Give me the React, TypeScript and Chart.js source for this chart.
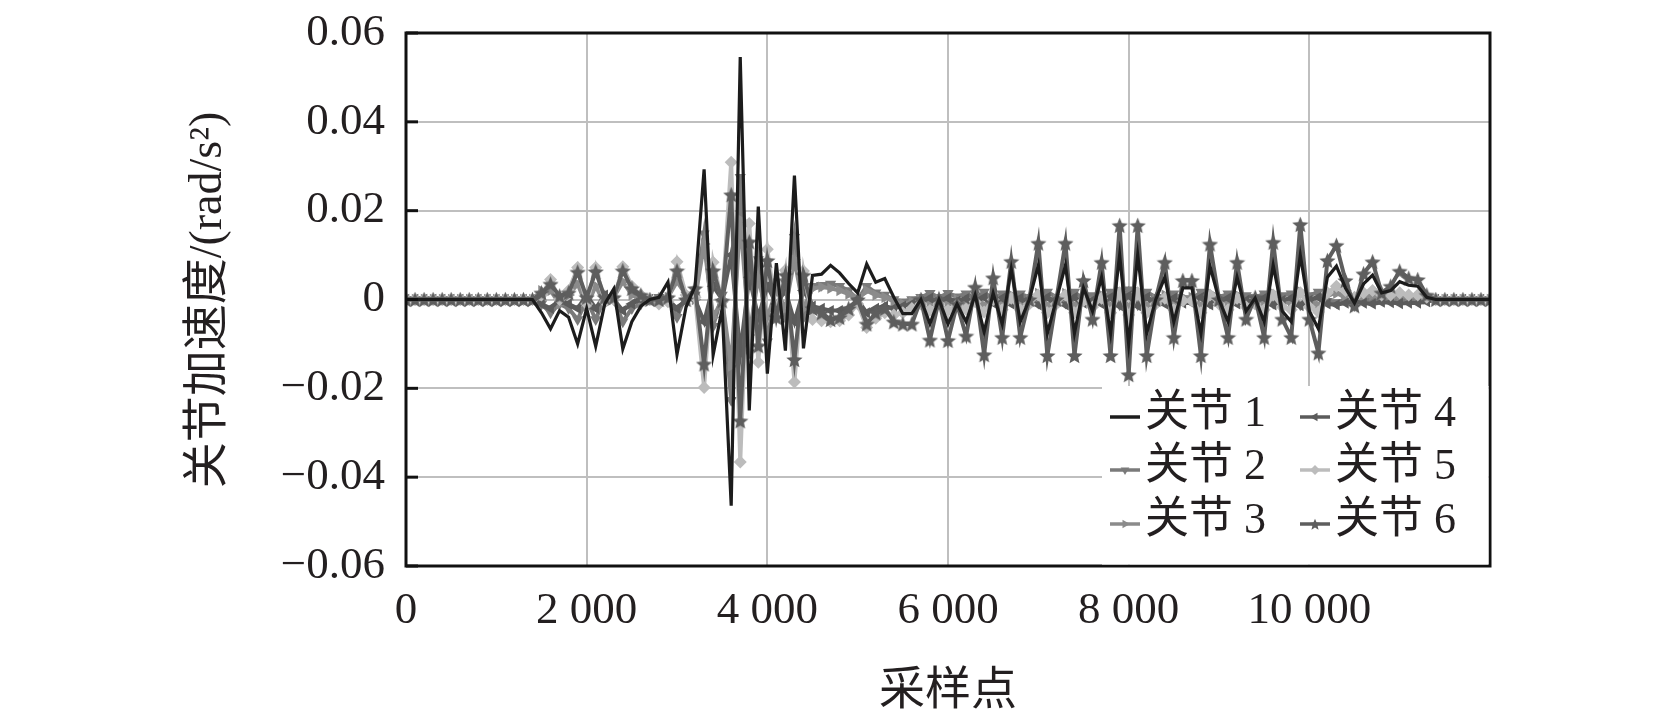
import { useEffect, useRef } from 'react';
import { Chart, registerables } from 'chart.js';

Chart.register(...registerables);

// sampling points (x axis)
const samplePoints = [
  0, 100, 200, 300, 400, 500, 600, 700, 800, 900,
  1000, 1100, 1200, 1300, 1400, 1500, 1600, 1700, 1800, 1900,
  2000, 2100, 2200, 2300, 2400, 2500, 2600, 2700, 2800, 2900,
  3000, 3100, 3200, 3300, 3400, 3500, 3600, 3700, 3800, 3900,
  4000, 4100, 4200, 4300, 4400, 4500, 4600, 4700, 4800, 4900,
  5000, 5100, 5200, 5300, 5400, 5500, 5600, 5700, 5800, 5900,
  6000, 6100, 6200, 6300, 6400, 6500, 6600, 6700, 6800, 6900,
  7000, 7100, 7200, 7300, 7400, 7500, 7600, 7700, 7800, 7900,
  8000, 8100, 8200, 8300, 8400, 8500, 8600, 8700, 8800, 8900,
  9000, 9100, 9200, 9300, 9400, 9500, 9600, 9700, 9800, 9900,
  10000, 10100, 10200, 10300, 10400, 10500, 10600, 10700, 10800, 10900,
  11000, 11100, 11200, 11300, 11400, 11500, 11600, 11700, 11800, 11900,
  12000,
];

const joint1 = [
  0, 0, 0, 0, 0, 0, 0, 0, 0, 0,
  0, 0, 0, 0, 0, -0.003, -0.0066, -0.0025, -0.004, -0.010,
  -0.002, -0.0105, -0.001, 0.0024, -0.0111, -0.005, -0.0015, 0, 0.0005, 0.0039,
  -0.0124, -0.0017, 0.003, 0.0293, -0.0125, -0.002, -0.0464, 0.0546, -0.025, 0.0209,
  -0.0167, 0.0082, -0.0115, 0.0279, -0.011, 0.0054, 0.0057, 0.0077, 0.006, 0.0036,
  0.0015, 0.008, 0.0039, 0.0047, 0.0005, -0.0032, -0.0032, 0, -0.0055, 0,
  -0.0055, -0.001, -0.005, 0.001, -0.0073, 0.0014, -0.0055, 0.0069, -0.005, 0,
  0.0077, -0.0076, 0, 0.0077, -0.0076, 0.0026, -0.0026, 0.005, -0.0076, 0.010,
  -0.010, 0.010, -0.0076, 0, 0.005, -0.005, 0.0026, 0.0026, -0.0076, 0.0075,
  0, -0.005, 0.005, -0.0026, 0.0003, -0.005, 0.0077, -0.0026, -0.005, 0.010,
  -0.0026, -0.0066, 0.005, 0.0075, 0.0026, -0.0008, 0.0035, 0.0055, 0.0015, 0.002,
  0.004, 0.0032, 0.003, 0.0005, 0, 0, 0, 0, 0, 0,
  0,
];

const joint2 = [
  0, 0, 0, 0, 0, 0, 0, 0, 0, 0,
  0, 0, 0, 0, 0, -0.001, -0.003, -0.001, -0.002, -0.0045,
  0, -0.0045, 0.0005, 0, -0.005, -0.002, -0.001, 0, 0.0005, 0,
  -0.004, 0.001, 0.001, 0.0148, -0.006, 0.001, -0.0227, 0.0275, -0.012, 0.009,
  -0.0095, 0.004, -0.004, 0.014, -0.004, 0.003, 0.0032, 0.0035, 0.003, 0.002,
  0, 0.003, 0.0015, 0.001, 0, -0.0005, 0, 0.0005, 0.0014, 0.0005,
  0.0014, 0.0006, 0.0013, 0.0002, 0.0017, 0, 0.0013, -0.0004, 0.0013, 0.0005,
  -0.0008, 0.0017, 0.0005, -0.0008, 0.0017, 0.0001, 0.0009, -0.0003, 0.0017, -0.0012,
  0.0022, -0.0012, 0.0017, 0.0005, -0.0003, 0.0013, 0.0001, 0.0001, 0.0017, -0.0008,
  0.0005, 0.0013, -0.0003, 0.0009, 0.0005, 0.0013, -0.0008, 0.0009, 0.0013, -0.0012,
  0.0009, 0.0017, -0.0004, -0.0007, 0.0001, 0.0006, -0.0001, -0.0003, 0.0003, 0.0002,
  -0.0001, 0, 0, 0.0003, 0, 0, 0, 0, 0, 0,
  0,
];

const joint3 = [
  0, 0, 0, 0, 0, 0, 0, 0, 0, 0,
  0, 0, 0, 0, 0, 0.002, 0.002, -0.001, 0.001, 0.0035,
  -0.0015, 0.003, -0.001, 0.0005, 0.004, 0.001, 0, 0, -0.0005, 0.0005,
  0.004, 0.001, 0, 0.0125, -0.004, 0, -0.015, 0.018, -0.008, 0.005,
  -0.004, 0.002, -0.002, 0.009, -0.002, 0.0025, 0.0028, 0.0025, 0.002, 0.0012,
  0, 0.002, 0.001, 0.0005, -0.0005, -0.001, -0.0005, 0, -0.001, 0,
  -0.001, 0, -0.0009, 0.0004, -0.0013, 0.0006, -0.0009, 0.001, -0.0009, 0,
  0.0014, -0.0013, 0, 0.0014, -0.0013, 0.0005, -0.0005, 0.001, -0.0013, 0.0018,
  -0.0018, 0.0018, -0.0013, 0, 0.001, -0.0009, 0.0005, 0.0005, -0.0013, 0.0014,
  0, -0.0009, 0.001, -0.0005, 0.0001, -0.0009, 0.0014, -0.0005, -0.0009, 0.0018,
  -0.0005, -0.0013, 0.001, 0.0014, 0.0005, -0.0001, 0.0006, 0.001, 0.0002, 0.0003,
  0.0007, 0.0005, 0.0005, 0.0001, 0, 0, 0, 0, 0, 0,
  0,
];

const joint4 = [
  0, 0, 0, 0, 0, 0, 0, 0, 0, 0,
  0, 0, 0, 0, 0, -0.001, -0.002, 0, -0.001, -0.002,
  0.001, -0.002, 0.001, 0, -0.0025, -0.001, 0, 0, 0, 0,
  -0.002, 0, 0, -0.005, 0.003, 0, 0.01, -0.012, 0.005, -0.004,
  0.003, -0.001, 0.002, -0.005, 0.002, -0.0015, -0.002, -0.0025, -0.0025, -0.002,
  0, -0.003, -0.002, -0.0015, -0.002, -0.0015, -0.001, -0.0005, 0.0003, -0.0005,
  0.0003, -0.0004, 0.0002, -0.0007, 0.0005, -0.0008, 0.0003, -0.001, 0.0003, -0.0005,
  -0.0012, 0.0005, -0.0005, -0.0012, 0.0005, -0.0008, -0.0002, -0.001, 0.0005, -0.0014,
  0.0008, -0.0014, 0.0005, -0.0005, -0.001, 0.0003, -0.0008, -0.0008, 0.0005, -0.0012,
  -0.0005, 0.0003, -0.001, -0.0002, -0.0005, 0.0003, -0.0012, -0.0002, 0.0003, -0.0014,
  -0.0002, 0.0005, -0.001, -0.0012, -0.0008, -0.0004, -0.0008, -0.001, -0.0006, -0.0007,
  -0.0009, -0.0008, -0.0008, -0.0005, 0, 0, 0, 0, 0, 0,
  0,
];

const joint5 = [
  0, 0, 0, 0, 0, 0, 0, 0, 0, 0,
  0, 0, 0, 0, 0, 0.001, 0.0045, 0, 0.002, 0.0072,
  -0.001, 0.0072, -0.0005, 0, 0.0074, 0.003, 0.001, 0, -0.001, -0.0005,
  0.0085, 0.001, 0.0005, -0.0198, 0.0084, -0.0005, 0.0309, -0.0366, 0.0171, -0.0141,
  0.0113, -0.003, 0.0066, -0.0186, 0.0064, -0.0045, -0.0048, -0.005, -0.0048, -0.0035,
  -0.001, -0.0063, -0.0042, -0.003, -0.0035, -0.003, -0.002, -0.001, -0.0025, -0.001,
  -0.0025, -0.0012, -0.0022, -0.0005, -0.0028, 0, -0.0023, 0.0003, -0.0023, -0.001,
  0.001, -0.003, -0.001, 0.001, -0.003, -0.0003, -0.0017, 0.0003, -0.003, 0.0015,
  -0.0035, 0.0015, -0.003, -0.001, 0.0003, -0.0023, -0.0003, -0.0003, -0.003, 0.001,
  -0.001, -0.0023, 0.0003, -0.0017, -0.001, -0.0023, 0.001, -0.0017, -0.0023, 0.0015,
  -0.0017, -0.0028, 0.0015, 0.003, 0.002, 0.0005, 0.0015, 0.002, 0.001, 0.001,
  0.0015, 0.001, 0.001, 0.0005, 0, 0, 0, 0, 0, 0,
  0,
];

const joint6 = [
  0, 0, 0, 0, 0, 0, 0, 0, 0, 0,
  0, 0, 0, 0, 0, 0.0015, 0.0035, 0.0008, 0.0015, 0.0062,
  0.0005, 0.0063, 0.0005, 0.0005, 0.0065, 0.0025, 0.001, 0, 0, 0.0005,
  0.0065, 0, 0.0025, -0.0145, 0.0065, -0.0003, 0.0236, -0.0273, 0.013, -0.0104,
  0.0088, -0.004, 0.0055, -0.0135, 0.0055, -0.002, -0.003, -0.0045, -0.004, -0.002,
  0, -0.0055, -0.003, -0.002, -0.005, -0.0055, -0.0055, 0, -0.0091, 0,
  -0.0092, -0.001, -0.0082, 0.0028, -0.0124, 0.0049, -0.0085, 0.0086, -0.0085, 0,
  0.0127, -0.0126, 0, 0.0127, -0.0126, 0.0043, -0.0044, 0.0084, -0.0126, 0.0167,
  -0.0169, 0.0167, -0.0126, 0, 0.0084, -0.0085, 0.0043, 0.0043, -0.0126, 0.0125,
  0, -0.0085, 0.0084, -0.0044, 0.0005, -0.0085, 0.0129, -0.0044, -0.0085, 0.0169,
  -0.0044, -0.012, 0.0088, 0.0122, 0.0043, -0.0014, 0.0058, 0.0085, 0.0015, 0.003,
  0.0064, 0.0048, 0.0045, 0.001, 0, 0, 0, 0, 0, 0,
  0,
];

const seriesNames = ['关节 1', '关节 2', '关节 3', '关节 4', '关节 5', '关节 6'];
const seriesValues = [joint1, joint2, joint3, joint4, joint5, joint6];
const seriesColors = ['#1c1c1c', '#7a7a7a', '#8b8b8b', '#5b5b5b', '#bcbcbc', '#5e5e5e'];
const xTickValues = [0, 2000, 4000, 6000, 8000, 10000];
const yAxisTitle = '关节加速度/(rad/s²)';
const xAxisTitle = '采样点';

const SERIF = '"Liberation Serif", "Noto Sans CJK SC", serif';

function makeStar(size: number, color: string) {
  const c = document.createElement('canvas');
  c.width = size;
  c.height = size;
  const g = c.getContext('2d')!;
  const cx = size / 2, cy = size / 2 + 0.8, R = size / 2, r = R * 0.45;
  g.beginPath();
  for (let k = 0; k < 10; k++) {
    const ang = -Math.PI / 2 + (k * Math.PI) / 5;
    const rad = k % 2 === 0 ? R : r;
    const px = cx + rad * Math.cos(ang);
    const py = cy + rad * Math.sin(ang);
    if (k === 0) g.moveTo(px, py); else g.lineTo(px, py);
  }
  g.closePath();
  g.fillStyle = color;
  g.fill();
  return c;
}

function drawTri(ctx: CanvasRenderingContext2D, x: number, y: number, r: number, rotDeg: number) {
  let rad = (rotDeg * Math.PI) / 180;
  ctx.beginPath();
  ctx.moveTo(x + Math.sin(rad) * r, y - Math.cos(rad) * r);
  rad += (2 * Math.PI) / 3;
  ctx.lineTo(x + Math.sin(rad) * r, y - Math.cos(rad) * r);
  rad += (2 * Math.PI) / 3;
  ctx.lineTo(x + Math.sin(rad) * r, y - Math.cos(rad) * r);
  ctx.closePath();
  ctx.fill();
}

function fmtX(v: number) {
  if (v === 0) return '0';
  return String(v).replace(/\B(?=(\d{3})+(?!\d))/g, ' ');
}

export default function App() {
  const ref = useRef<HTMLCanvasElement>(null);

  useEffect(() => {
    document.body.style.margin = '0';
    const canvas = ref.current!;
    const starBig = makeStar(17, seriesColors[5]);
    const starSmall = makeStar(12, seriesColors[5]);

    const pointStyles: any[] = ['circle', 'triangle', 'triangle', 'triangle', 'rectRot', starBig];
    const rotations = [0, 180, 90, -90, 0, 0];
    const radii = [0, 6.5, 6.5, 6.5, 6.5, 7];
    const widths = [3.2, 4, 4, 4, 4, 4];

    const datasets = seriesValues.map((vals, k) => ({
      label: seriesNames[k],
      data: samplePoints.map((s, i) => ({ x: s, y: vals[i] })),
      borderColor: seriesColors[k],
      backgroundColor: seriesColors[k],
      borderWidth: widths[k],
      pointStyle: pointStyles[k],
      pointRotation: rotations[k],
      pointRadius: radii[k],
      pointBorderWidth: 0,
      pointBackgroundColor: seriesColors[k],
      tension: 0,
      order: k === 0 ? 0 : 7 - k,
    }));

    const decor = {
      id: 'decor',
      afterDraw(chart: any) {
        const { ctx, chartArea: a, scales } = chart;
        ctx.save();
        // inner ticks on left axis
        ctx.strokeStyle = '#111';
        ctx.lineWidth = 3;
        for (const t of scales.y.ticks) {
          const y = scales.y.getPixelForValue(t.value);
          ctx.beginPath();
          ctx.moveTo(a.left, y);
          ctx.lineTo(a.left + 12, y);
          ctx.stroke();
        }
        // frame
        ctx.lineWidth = 3;
        ctx.strokeRect(a.left, a.top, a.right - a.left, a.bottom - a.top);

        // legend box
        const lx = 1102, ly = 386;
        ctx.fillStyle = '#ffffff';
        ctx.fillRect(lx, ly, a.right - 1.5 - lx, a.bottom - 1.5 - ly);

        const rows = [414, 467, 521];
        const cols = [{ lineX: 1110, textX: 1145 }, { lineX: 1300, textX: 1335 }];
        ctx.font = `44px ${SERIF}`;
        ctx.textBaseline = 'middle';
        ctx.textAlign = 'left';
        for (let k = 0; k < 6; k++) {
          const col = cols[Math.floor(k / 3)];
          const ty = rows[k % 3];
          const ly2 = ty + 3;
          const color = seriesColors[k];
          ctx.strokeStyle = color;
          ctx.fillStyle = color;
          ctx.lineWidth = 3.5;
          ctx.beginPath();
          ctx.moveTo(col.lineX, ly2);
          ctx.lineTo(col.lineX + 30, ly2);
          ctx.stroke();
          const mx = col.lineX + 15;
          if (k >= 1 && k <= 3) drawTri(ctx, mx, ly2, 5, rotations[k]);
          if (k === 4) {
            ctx.beginPath();
            ctx.moveTo(mx, ly2 - 5);
            ctx.lineTo(mx + 5, ly2);
            ctx.lineTo(mx, ly2 + 5);
            ctx.lineTo(mx - 5, ly2);
            ctx.closePath();
            ctx.fill();
          }
          if (k === 5) ctx.drawImage(starSmall, mx - 6, ly2 - 6);
          ctx.fillStyle = '#231f20';
          ctx.fillText(seriesNames[k], col.textX, ty);
        }

        // axis titles
        ctx.fillStyle = '#231f20';
        ctx.font = `46px ${SERIF}`;
        ctx.textAlign = 'center';
        ctx.textBaseline = 'middle';
        ctx.save();
        ctx.translate(209, 300);
        ctx.rotate(-Math.PI / 2);
        ctx.fillText(yAxisTitle, 0, 0);
        ctx.restore();
        ctx.fillText(xAxisTitle, (a.left + a.right) / 2, 692);
        ctx.restore();
      },
    };

    const chart = new Chart(canvas, {
      type: 'line',
      data: { datasets: datasets as any },
      options: {
        animation: false,
        responsive: false,
        layout: { padding: { top: 33, right: 164, left: 0, bottom: 0 } },
        plugins: {
          legend: { display: false },
          tooltip: { enabled: false },
        },
        scales: {
          x: {
            type: 'linear',
            min: 0,
            max: 12000,
            afterBuildTicks: (s: any) => {
              s.ticks = [...xTickValues, 12000].map((v) => ({ value: v }));
            },
            afterFit: (s: any) => {
              s.height = 722 - 566;
              s.paddingLeft = 0;
              s.paddingRight = 0;
            },
            ticks: {
              autoSkip: false,
              maxRotation: 0,
              padding: 18,
              color: '#231f20',
              font: { family: SERIF, size: 45 },
              callback: (v: any) => (v === 12000 ? '' : fmtX(Number(v))),
            },
            grid: { color: '#bfbfbf', lineWidth: 2, drawTicks: false },
            border: { display: false },
          },
          y: {
            min: -0.06,
            max: 0.06,
            ticks: {
              stepSize: 0.02,
              padding: 21,
              color: '#231f20',
              font: { family: SERIF, size: 45 },
              callback: (v: any) => {
                const n = Number(v);
                if (Math.abs(n) < 1e-9) return '0';
                return (n < 0 ? '\u2212' : '') + Math.abs(n).toFixed(2);
              },
            },
            afterFit: (s: any) => {
              s.width = 406;
              s.paddingTop = 0;
              s.paddingBottom = 0;
            },
            grid: { color: '#bfbfbf', lineWidth: 2, drawTicks: false },
            border: { display: false },
          },
        },
      },
      plugins: [decor],
    });
    return () => chart.destroy();
  }, []);

  return (
    <div style={{ width: 1654, height: 722, background: '#ffffff' }}>
      <canvas ref={ref} width={1654} height={722} style={{ width: 1654, height: 722, display: 'block' }} />
    </div>
  );
}
